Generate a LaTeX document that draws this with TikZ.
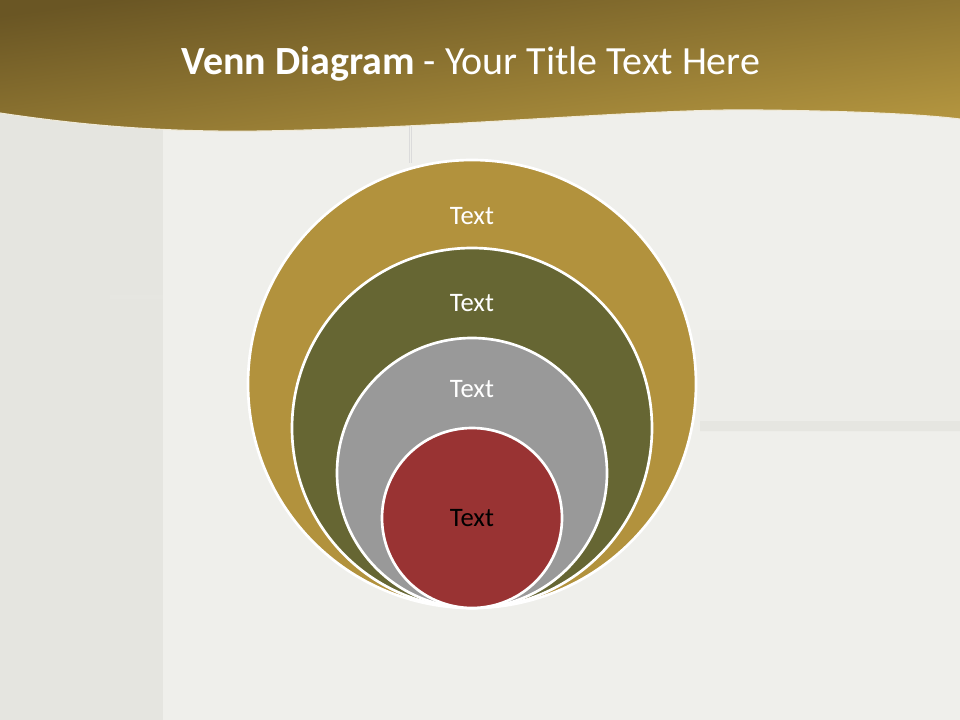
\documentclass[tikz,border=0pt]{standalone}
\usepackage{fontspec}
\setmainfont{Carlito}
\definecolor{bgmain}{HTML}{EFEFEB}
\definecolor{bgleft}{HTML}{E5E5E0}
\definecolor{bgpanel}{HTML}{EDEDE9}
\definecolor{bgmark}{HTML}{E6E6E1}
\definecolor{bandtop}{HTML}{6A5624}
\definecolor{bandbot}{HTML}{B3953F}
\definecolor{cgold}{HTML}{B2923D}
\definecolor{colive}{HTML}{666633}
\definecolor{cgray}{HTML}{999999}
\definecolor{cred}{HTML}{993333}
\tikzset{
  ring/.style={circle, draw=white, line width=2pt, inner sep=0pt},
  lbl/.style={font=\fontsize{20}{24}\selectfont, text=white},
}
\begin{document}
\begin{tikzpicture}[x=0.75pt,y=-0.75pt]
\useasboundingbox (0,0) rectangle (960,720);
% background
\fill[bgmain] (0,0) rectangle (960,720);
\fill[bgleft] (0,0) rectangle (163,720);
\fill[bgpanel] (700,330) rectangle (960,432);
\fill[bgmark] (700,421) rectangle (960,431);
\fill[bgmark!90!bgleft] (110,295) rectangle (163,299);
\draw[black!14, line width=0.4pt] (409,126) -- (409,163);
\draw[black!14, line width=0.4pt] (411.5,126) -- (411.5,163);
% header band
\shade[shading=axis, top color=bandtop, bottom color=bandbot, shading angle=8]
  (0,0) -- (960,0) -- (960,119)
  .. controls (920,114) and (850,111) .. (760,110)
  .. controls (650,108) and (450,128) .. (260,131)
  .. controls (180,132) and (100,128) .. (0,113) -- cycle;
\draw[white!80!bandbot, line width=0.8pt]
  (960,119)
  .. controls (920,114) and (850,111) .. (760,110)
  .. controls (650,108) and (450,128) .. (260,131)
  .. controls (180,132) and (100,128) .. (0,113);
\node[anchor=base, text=white, font=\fontsize{30}{36}\selectfont, inner sep=0pt] (title) at (471,75)
  {\textbf{Venn Diagram} - Your Title Text Here};
% circles
\node[ring, fill=cgold,  minimum size=448*0.75pt] (c1) at (472,384) {};
\node[ring, fill=colive, minimum size=360*0.75pt] (c2) at (472,428) {};
\node[ring, fill=cgray,  minimum size=270*0.75pt] (c3) at (472,473) {};
\node[ring, fill=cred,   minimum size=180*0.75pt] (c4) at (472,518) {};
\node[lbl] (t1) at (472,216) {Text};
\node[lbl] (t2) at (472,303) {Text};
\node[lbl] (t3) at (472,389) {Text};
\node[lbl, text=black] (t4) at (472,518) {Text};
\end{tikzpicture}
\end{document}
